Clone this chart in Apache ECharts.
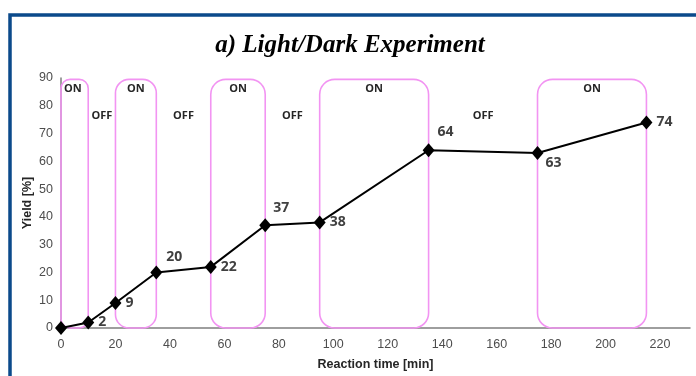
<!DOCTYPE html>
<html>
<head>
<meta charset="utf-8">
<script src="https://cdn.jsdelivr.net/npm/echarts@6/dist/echarts.min.js"></script>
<style>
html,body{margin:0;padding:0;background:#fff;}
#c{width:696px;height:376px;}
</style>
</head>
<body>
<div id="c"></div>
<script>
const times = [0, 10, 20, 35, 55, 75, 95, 135, 175, 215];
const yields = [0, 2, 9, 20, 22, 37, 38, 64, 63, 74];
const onPeriods = [[0, 10], [20, 35], [55, 75], [95, 135], [175, 215]];
const offPeriods = [[10, 20], [35, 55], [75, 95], [135, 175]];
const xTicks = [0, 20, 40, 60, 80, 100, 120, 140, 160, 180, 200, 220];
const yTicks = [0, 10, 20, 30, 40, 50, 60, 70, 80, 90];
const boxTop = 89.5;
const onLabelY = 86;
const offLabelY = 76.5;

const labelPos = {
  2: {position: 'right', offset: [0, 0]},
  9: {position: 'right', offset: [0, 0]},
  20: {position: 'right', offset: [0, -15]},
  22: {position: 'right', offset: [0, 0]},
  37: {position: 'right', offset: [-2, -17]},
  38: {position: 'right', offset: [0, 0]},
  64: {position: 'right', offset: [-1, -18]},
  63: {position: 'right', offset: [-2, 10]},
  74: {position: 'right', offset: [0, 0]}
};

const chart = echarts.init(document.getElementById('c'), null, {renderer: 'canvas'});

const lineData = times.map((t, i) => {
  const v = yields[i];
  const item = {value: [t, v]};
  if (i === 0) {
    item.label = {show: false};
  } else {
    const lp = labelPos[v] || {position: 'right', offset: [0, 0]};
    item.label = {show: true, position: lp.position, offset: lp.offset, distance: 4};
  }
  return item;
});

const option = {
  animation: false,
  backgroundColor: '#ffffff',
  title: {
    text: 'a) Light/Dark Experiment',
    left: 345, top: 28, textAlign: 'center',
    textStyle: {fontFamily: 'Liberation Serif', fontStyle: 'italic', fontWeight: 'bold', fontSize: 25, color: '#000'}
  },
  graphic: [{
    type: 'rect', silent: true, z: 100,
    shape: {x: 10, y: 15, width: 720, height: 420},
    style: {fill: 'none', stroke: '#0B4A8B', lineWidth: 3.5}
  }],
  grid: {left: 61, right: 6, top: 78, bottom: 47},
  xAxis: {
    type: 'value', min: 0, max: 231, interval: 20,
    name: 'Reaction time [min]', nameLocation: 'middle', nameGap: 30, nameMoveOverlap: false,
    nameTextStyle: {fontFamily: 'Liberation Sans', fontWeight: 'bold', fontSize: 12.5, color: '#262626'},
    axisLine: {show: true, lineStyle: {color: '#7f7f7f', width: 1.5}},
    axisTick: {show: false},
    splitLine: {show: false},
    axisLabel: {
      showMaxLabel: false, fontFamily: 'Liberation Sans', fontSize: 12.5, color: '#4d4d4d', margin: 10,
      formatter: v => xTicks.includes(v) ? String(v) : ''
    }
  },
  yAxis: {
    type: 'value', min: 0, max: 90, interval: 10,
    name: 'Yield [%]', nameLocation: 'middle', nameGap: 27, nameMoveOverlap: false,
    nameTextStyle: {fontFamily: 'Liberation Sans', fontWeight: 'bold', fontSize: 12.5, color: '#262626'},
    axisLine: {show: true, lineStyle: {color: '#7f7f7f', width: 1.5}},
    axisTick: {show: false},
    splitLine: {show: false},
    axisLabel: {
      fontFamily: 'Liberation Sans', fontSize: 12.5, color: '#4d4d4d', margin: 8,
      formatter: v => yTicks.includes(v) ? String(v) : ''
    }
  },
  series: [
    {
      type: 'custom', z: 3,
      data: onPeriods.map(p => [p[0], p[1]]),
      renderItem: function (params, api) {
        const a = api.coord([api.value(0), boxTop]);
        const b = api.coord([api.value(1), 0]);
        const w = b[0] - a[0];
        const r = Math.min(15, w / 3);
        const lx = (a[0] + b[0]) / 2;
        const ly = api.coord([0, onLabelY])[1];
        const first = params.dataIndex === 0;
        return {
          type: 'group',
          children: [
            {type: 'rect', shape: {x: a[0], y: a[1], width: w, height: b[1] - a[1], r: r},
             style: {fill: 'none', stroke: '#F294F2', lineWidth: 1.6}},
            {type: 'text', x: first ? a[0] + 3 : lx, y: ly,
             style: {text: 'ON', textAlign: first ? 'left' : 'center', textVerticalAlign: 'middle',
                     font: 'bold 11px "Open Sans"', fill: '#262626'}}
          ]
        };
      }
    },
    {
      type: 'custom', z: 3,
      data: offPeriods.map(p => [p[0], p[1]]),
      renderItem: function (params, api) {
        const a = api.coord([(api.value(0) + api.value(1)) / 2, offLabelY]);
        return {type: 'text', x: a[0], y: a[1],
          style: {text: 'OFF', textAlign: 'center', textVerticalAlign: 'middle',
                  font: 'bold 11px "Open Sans"', fill: '#262626'}};
      }
    },
    {
      type: 'line', z: 5,
      data: lineData,
      symbol: 'diamond', symbolSize: [12, 14],
      itemStyle: {color: '#000'},
      lineStyle: {color: '#000', width: 2},
      label: {fontFamily: 'Open Sans', fontWeight: 'bold', fontSize: 14, color: '#404040'}
    }
  ]
};
chart.setOption(option);
</script>
</body>
</html>
